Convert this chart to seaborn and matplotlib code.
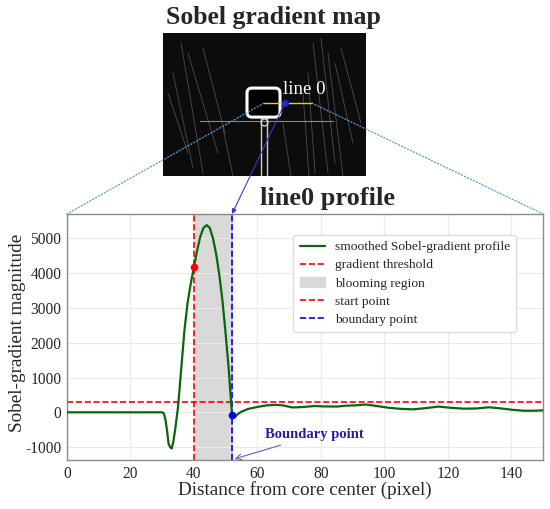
import numpy as np
import pandas as pd
import seaborn as sns
import matplotlib
matplotlib.use("Agg")
import matplotlib.pyplot as plt
from matplotlib.patches import FancyBboxPatch, Patch, ConnectionPatch
from matplotlib.lines import Line2D

# profile
distance = [0, 5, 10, 15, 20, 25, 30, 30.5, 31, 31.5, 32, 32.5, 33, 33.5, 34, 34.5,
            35, 36, 37, 38, 39, 40, 41, 42, 43, 44, 45, 46, 47, 48, 49, 50, 51,
            51.7, 52, 52.8, 54, 55, 57, 60, 63, 66, 68, 71, 74, 78, 81, 85, 88,
            91, 94, 97, 101, 105, 109, 113, 117, 121, 125, 129, 133, 137, 140,
            144, 147, 150]
magnitude = [0, 0, 0, 0, 0, 0, 0, -30, -200, -500, -900, -1000, -1040, -850, -550, -200,
             160, 1250, 2350, 3150, 3700, 4170, 4650, 5050, 5300, 5380, 5300, 5000, 4550,
             3950, 3200, 2250, 1200,
             300, -80, -145, -40, 20, 95, 155, 200, 215, 200, 140, 150, 180, 170, 165, 190,
             200, 225, 190, 135, 100, 85, 120, 165, 130, 105, 110, 145, 110, 75,
             45, 45, 55]

threshold = 300
start_x, start_y = 40, 4170
boundary_x, boundary_y = 52, -80

x_ticks = [0, 20, 40, 60, 80, 100, 120, 140]
y_ticks = [-1000, 0, 1000, 2000, 3000, 4000, 5000]

# sketch of the gradient map (pixel coords inside the inset)
core_box = (84, 55, 33, 29)          # x, y, w, h
probe_line = (101, 149, 70)          # x0, x1, y
probe_dot = (122, 70)
streaks = [((18, 10), (40, 140)), ((25, 20), (55, 120)), ((10, 40), (30, 135)),
           ((40, 15), (62, 100)), ((150, 10), (165, 140)), ((158, 5), (172, 130)),
           ((165, 20), (180, 143)), ((172, 30), (190, 110)), ((145, 40), (152, 140)),
           ((120, 90), (128, 143)), ((60, 95), (70, 143)), ((5, 60), (25, 120)),
           ((140, 60), (146, 143)), ((178, 15), (198, 90))]

df = pd.DataFrame({"distance": distance, "magnitude": magnitude})

sns.set_theme(style="whitegrid")
plt.rcParams["font.family"] = ["Liberation Serif", "DejaVu Serif"]
plt.rcParams["axes.unicode_minus"] = False

fig = plt.figure(figsize=(5.5, 5.09), dpi=100)
ax = fig.add_axes([0.1218, 0.0963, 0.8655, 0.4833])

ax.axvspan(start_x, boundary_x, color="#d9d9d9", zorder=0, label="blooming region")
sns.lineplot(data=df, x="distance", y="magnitude", color="#0b650b", lw=1.6,
             ax=ax, label="smoothed Sobel-gradient profile", zorder=3)
ax.axhline(threshold, color="red", ls="--", lw=1.2, label="gradient threshold", zorder=2)
ax.axvline(start_x, color="red", ls="--", lw=1.2, label="start point", zorder=2)
ax.axvline(boundary_x, color="blue", ls="--", lw=1.2, label="boundary point", zorder=2)
ax.scatter([start_x], [start_y], color="red", s=20, zorder=4)
ax.scatter([boundary_x], [boundary_y], color="blue", s=20, zorder=4)

ax.set_xlim(0, 150)
ax.set_ylim(-1370, 5700)
ax.set_xticks(x_ticks)
ax.set_yticks(y_ticks)
ax.tick_params(labelsize=11.2, length=0, pad=4)
ax.grid(color="#ebebeb", lw=0.8)
for sp in ax.spines.values():
    sp.set_color("#8a8a8a")
    sp.set_linewidth(1.0)
ax.set_xlabel("Distance from core center (pixel)", fontsize=13.8)
ax.set_ylabel("Sobel-gradient magnitude", fontsize=13.8)
ax.xaxis.set_label_coords(0.499, -0.085)
ax.yaxis.set_label_coords(-0.086, 0.518)

handles = [Line2D([], [], color="#0b650b", lw=1.6),
           Line2D([], [], color="red", ls="--", lw=1.2),
           Patch(color="#d9d9d9"),
           Line2D([], [], color="red", ls="--", lw=1.2),
           Line2D([], [], color="blue", ls="--", lw=1.2)]
labels = ["smoothed Sobel-gradient profile", "gradient threshold", "blooming region",
          "start point", "boundary point"]
ax.legend(handles, labels, loc="upper right", bbox_to_anchor=(0.943, 0.915),
          borderaxespad=0, fontsize=9.7, frameon=True, framealpha=1,
          edgecolor="#dddddd", handlelength=1.9, handletextpad=0.7,
          borderpad=0.45, labelspacing=0.42)

ax.annotate("Boundary point", xy=(boundary_x + 0.8, -1340), xytext=(62.5, -650),
            fontsize=10.5, fontweight="bold", color="#2b1aa8", va="center",
            arrowprops=dict(arrowstyle="->", color="#6a5acd", lw=0.8,
                            shrinkA=1, shrinkB=0))

# inset with the gradient map sketch
img = fig.add_axes([0.2964, 0.654, 0.369, 0.281])
img.set_facecolor("#0c0c0c")
img.set_xlim(0, 203)
img.set_ylim(143, 0)
img.set_xticks([])
img.set_yticks([])
img.grid(False)
for sp in img.spines.values():
    sp.set_visible(False)
for (x0, y0), (x1, y1) in streaks:
    img.plot([x0, x1], [y0, y1], color="#6a6a6a", lw=0.6, alpha=0.7)
img.plot([37, 170], [88, 88], color="#8a8a8a", lw=0.8)
bx, by, bw, bh = core_box
img.add_patch(FancyBboxPatch((bx, by), bw, bh, boxstyle="round,pad=0,rounding_size=5",
                             fc="black", ec="white", lw=2.2, zorder=3))
img.plot([98, 98], [bh + by, 143], color="#cfcfcf", lw=1.0)
img.plot([104, 104], [bh + by, 143], color="#cfcfcf", lw=1.0)
img.plot([101], [bh + by + 5], marker="o", ms=5, mfc="none", mec="#cfcfcf")
img.plot(probe_line[:2], [probe_line[2], probe_line[2]], color="#d8d820", lw=1.0, zorder=4)
img.plot([probe_dot[0]], [probe_dot[1]], "o", color="#2020d0", ms=4, zorder=5)
img.text(120, 56, "line 0", color="white", fontsize=13.5, va="center", zorder=5)

fig.text(0.498, 0.966, "Sobel gradient map", ha="center", va="center",
         fontsize=18.5, fontweight="bold")
fig.text(0.596, 0.611, "line0 profile", ha="center", va="center",
         fontsize=19, fontweight="bold")

# connectors between the inset and the profile axes
for (xa, ya), xb in [((probe_line[0], probe_line[2]), 0), ((probe_line[1], probe_line[2]), 1)]:
    con = ConnectionPatch(xyA=(xa, ya), coordsA=img.transData, xyB=(xb, 1),
                          coordsB=ax.transAxes, ls=":", color="#5a9fd0", lw=0.9)
    fig.add_artist(con)
arrow = ConnectionPatch(xyA=probe_dot, coordsA=img.transData, xyB=(boundary_x, 5700),
                        coordsB=ax.transData, color="#3a3ac0", lw=0.8,
                        arrowstyle="-|>", mutation_scale=7)
fig.add_artist(arrow)

fig.savefig("out.png", dpi=100)
